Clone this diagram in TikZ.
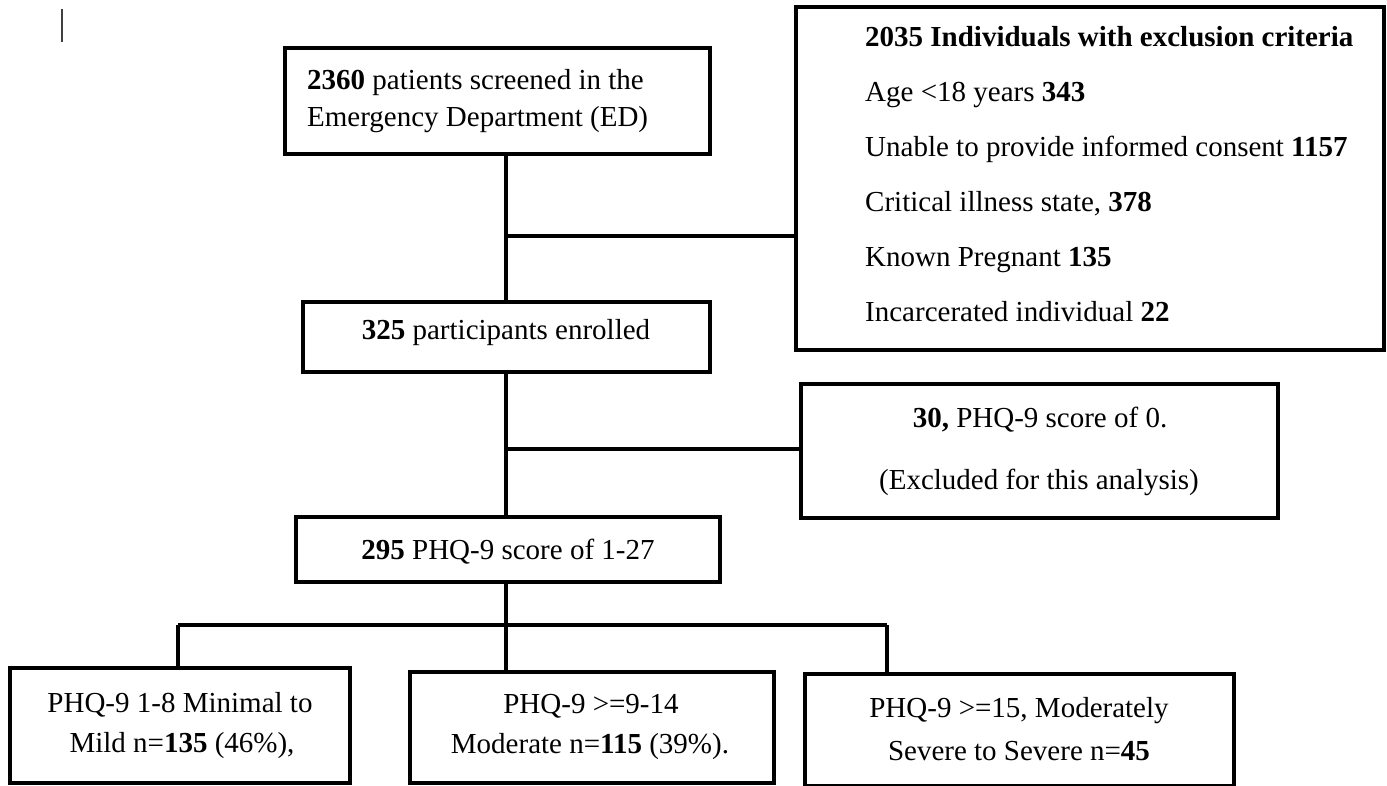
\documentclass[tikz,border=0pt]{standalone}
\usepackage{fontspec}
\setmainfont{Liberation Serif}
\begin{document}
\begin{tikzpicture}[x=1pt,y=-1pt,
  box/.style={draw=black, line width=3.7pt, inner sep=0pt, fill=none},
  conn/.style={draw=black, line width=3.5pt},
  txt/.style={inner sep=0pt, font=\fontsize{29}{35}\selectfont}]
\useasboundingbox (0,0) rectangle (1387,786);
% small cursor mark
\draw[black!75, line width=1.2pt] (62,9) -- (62,42);
% boxes
\node[box, minimum width=425pt, minimum height=106pt] (a) at (497.5,101) {};
\node[box, minimum width=588pt, minimum height=343pt] (c) at (1090,178.5) {};
\node[box, minimum width=407pt, minimum height=70pt] (b) at (506.5,337) {};
\node[box, minimum width=477pt, minimum height=134pt] (e) at (1039.5,451) {};
\node[box, minimum width=424pt, minimum height=65pt] (d) at (508,549.5) {};
\node[box, minimum width=340pt, minimum height=115pt] (f) at (180,725.5) {};
\node[box, minimum width=364pt, minimum height=111pt] (g) at (592,727.5) {};
\node[box, minimum width=429pt, minimum height=112pt] (h) at (1019.5,730) {};
% texts
\node[txt, anchor=base west] (a1) at (307,90) {\textbf{2360} patients screened in the};
\node[txt, anchor=base west] (a2) at (307,127) {Emergency Department (ED)};
\node[txt, anchor=base west] (c1) at (865,47) {\textbf{2035 Individuals with exclusion criteria}};
\node[txt, anchor=base west] (c2) at (865,102) {Age <18 years \textbf{343}};
\node[txt, anchor=base west] (c3) at (865,157) {Unable to provide informed consent \textbf{1157}};
\node[txt, anchor=base west] (c4) at (865,212) {Critical illness state, \textbf{378}};
\node[txt, anchor=base west] (c5) at (865,267) {Known Pregnant \textbf{135}};
\node[txt, anchor=base west] (c6) at (865,322) {Incarcerated individual \textbf{22}};
\node[txt, anchor=base] (b1) at (506,340) {\textbf{325} participants enrolled};
\node[txt, anchor=base] (e1) at (1040,427) {\textbf{30,} PHQ-9 score of 0.};
\node[txt, anchor=base] (e2) at (1039,489) {(Excluded for this analysis)};
\node[txt, anchor=base] (d1) at (508,559) {\textbf{295} PHQ-9 score of 1-27};
\node[txt, anchor=base] (f1) at (180,712) {PHQ-9 1-8 Minimal to};
\node[txt, anchor=base] (f2) at (182,752) {Mild n=\textbf{135} (46\%),};
\node[txt, anchor=base] (g1) at (591,713) {PHQ-9 >=9-14};
\node[txt, anchor=base] (g2) at (590,753) {Moderate n=\textbf{115} (39\%).};
\node[txt, anchor=base] (h1) at (1019,717) {PHQ-9 >=15, Moderately};
\node[txt, anchor=base] (h2) at (1019,760) {Severe to Severe n=\textbf{45}};
% connector helpers
\coordinate (trunk) at (506,0);
\coordinate (j1) at (506,236);
\coordinate (j2) at (506,449);
\coordinate (j3) at (506,625);
\coordinate (fl) at (178,625);
\coordinate (fr) at (887,625);
% connectors
\draw[conn] (a.south -| trunk) -- (b.north -| trunk);
\draw[conn] (j1) -- (j1 -| c.west);
\draw[conn] (b.south -| trunk) -- (d.north -| trunk);
\draw[conn] (j2) -- (j2 -| e.west);
\draw[conn] (d.south -| trunk) -- (j3);
\draw[conn] (fl) -- (fr);
\draw[conn] (fl) -- (fl |- f.north);
\draw[conn] (j3) -- (j3 |- g.north);
\draw[conn] (fr) -- (fr |- h.north);
\end{tikzpicture}
\end{document}
